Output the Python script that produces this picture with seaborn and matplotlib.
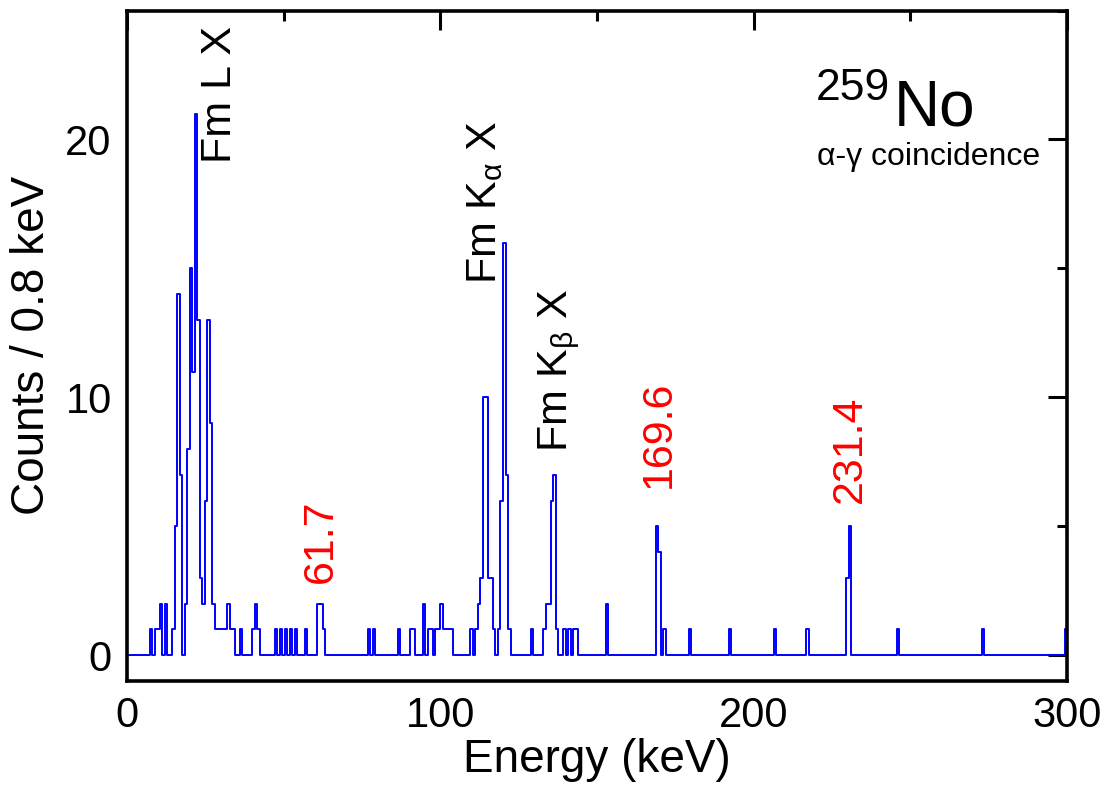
import numpy as np
import pandas as pd
import matplotlib
matplotlib.use("Agg")
import matplotlib.pyplot as plt
from matplotlib.ticker import MultipleLocator
import seaborn as sns

# Histogram of gamma energies in 0.8 keV bins: lower bin edge (keV) and counts of non-empty bins
bin_energy = [7.2, 8.8, 9.6, 10.4, 12.0, 14.4, 15.2, 16.0, 16.8, 18.4, 19.2, 20.0, 20.8, 21.6,
              22.4, 23.2, 24.0, 24.8, 25.6, 26.4, 27.2, 28.0, 28.8, 29.6, 30.4, 31.2, 32.0,
              32.8, 33.6, 36.0, 40.0, 40.8, 41.6, 47.2, 48.8, 50.4, 52.0, 53.6, 56.8, 60.8,
              61.6, 62.4, 76.8, 78.4, 86.4, 90.4, 91.2, 94.4, 96.0, 96.8, 98.4, 99.2, 100.0,
              100.8, 101.6, 102.4, 103.2, 109.6, 111.2, 112.0, 112.8, 113.6, 114.4, 115.2,
              116.0, 116.8, 118.4, 119.2, 120.0, 120.8, 121.6, 128.8, 132.8, 133.6, 134.4,
              135.2, 136.0, 136.8, 139.2, 141.2, 142.0, 143.6, 152.8, 168.8, 169.6, 171.2,
              179.2, 192.0, 206.4, 216.8, 229.6, 230.4, 245.6, 272.8, 299.2]
bin_counts = [1, 1, 1, 2, 2, 1, 5, 14, 7, 2, 8, 15, 11, 21,
              13, 3, 2, 6, 13, 9, 2, 1, 1, 1, 1, 1, 2,
              1, 1, 1, 1, 2, 1, 1, 1, 1, 1, 1, 1, 2,
              2, 1, 1, 1, 1, 1, 1, 2, 1, 1, 1, 1, 2,
              1, 1, 1, 1, 1, 1, 2, 3, 10, 10, 3,
              3, 1, 1, 6, 16, 7, 1, 1, 1, 2, 2,
              6, 7, 1, 1, 1, 1, 1, 2, 5, 4, 1,
              1, 1, 1, 1, 3, 5, 1, 1, 1]

# Peak annotations
xray_labels = ["Fm L X", "Fm K$_{\\alpha}$ X", "Fm K$_{\\beta}$ X"]
xray_pos = [(29.6, 19.1), (114.2, 14.4), (138.0, 7.9)]
gamma_labels = ["61.7", "169.6", "231.4"]
gamma_pos = [(62.0, 2.8), (169.6, 6.5), (230.8, 5.9)]

bin_width = 0.8
n_bins = 375
edges = np.round(np.arange(n_bins + 1) * bin_width, 1)
counts = np.zeros(n_bins)
for e, c in zip(bin_energy, bin_counts):
    counts[int(round(e / bin_width))] = c
spectrum = pd.DataFrame({"energy": edges[:-1] + bin_width / 2, "counts": counts})

sns.set_style("white")
plt.rcParams["font.family"] = ["Liberation Sans", "DejaVu Sans"]
plt.rcParams["mathtext.fontset"] = "custom"
plt.rcParams["mathtext.rm"] = "Liberation Sans"
plt.rcParams["mathtext.it"] = "Liberation Sans"
plt.rcParams["mathtext.bf"] = "Liberation Sans:bold"
for key in ["text.color", "axes.labelcolor", "xtick.color", "ytick.color", "axes.edgecolor"]:
    plt.rcParams[key] = "black"

fig = plt.figure(figsize=(11.07, 7.91), dpi=100)
ax = fig.add_axes([0.1147, 0.139, 0.8492, 0.8477])

sns.histplot(data=spectrum, x="energy", weights="counts", bins=edges.tolist(),
             element="step", fill=False, color="#0000ff", linewidth=1.4, ax=ax)

ax.set_xlim(0, 300)
ax.set_ylim(-1, 25)
ax.xaxis.set_major_locator(MultipleLocator(100))
ax.xaxis.set_minor_locator(MultipleLocator(50))
ax.yaxis.set_major_locator(MultipleLocator(10))
ax.yaxis.set_minor_locator(MultipleLocator(5))
ax.tick_params(which="both", direction="in", top=True, right=True, width=2.2, color="black")
ax.tick_params(which="major", length=14, labelsize=30, pad=11, labelcolor="black")
ax.tick_params(which="minor", length=7)
for s in ax.spines.values():
    s.set_linewidth(2.6)
    s.set_color("black")

ax.set_xlabel("Energy (keV)", fontsize=33, labelpad=1)
ax.set_ylabel("Counts / 0.8 keV", fontsize=33, labelpad=8)

for txt, (x, y) in zip(xray_labels, xray_pos):
    ax.text(x, y, txt, rotation=90, ha="center", va="bottom", fontsize=31, color="black")
for txt, (x, y) in zip(gamma_labels, gamma_pos):
    ax.text(x, y, txt, rotation=90, ha="center", va="bottom", fontsize=31, color="#ff0000")

ax.text(0.902, 0.829, "No", transform=ax.transAxes, ha="right", va="baseline", fontsize=46)
ax.text(0.812, 0.915, "259", transform=ax.transAxes, ha="right", va="top", fontsize=32)
ax.text(0.971, 0.781, "\u03b1-\u03b3 coincidence", transform=ax.transAxes, ha="right",
        va="center", fontsize=23)

fig.savefig("out.png", dpi=100, facecolor="white")
